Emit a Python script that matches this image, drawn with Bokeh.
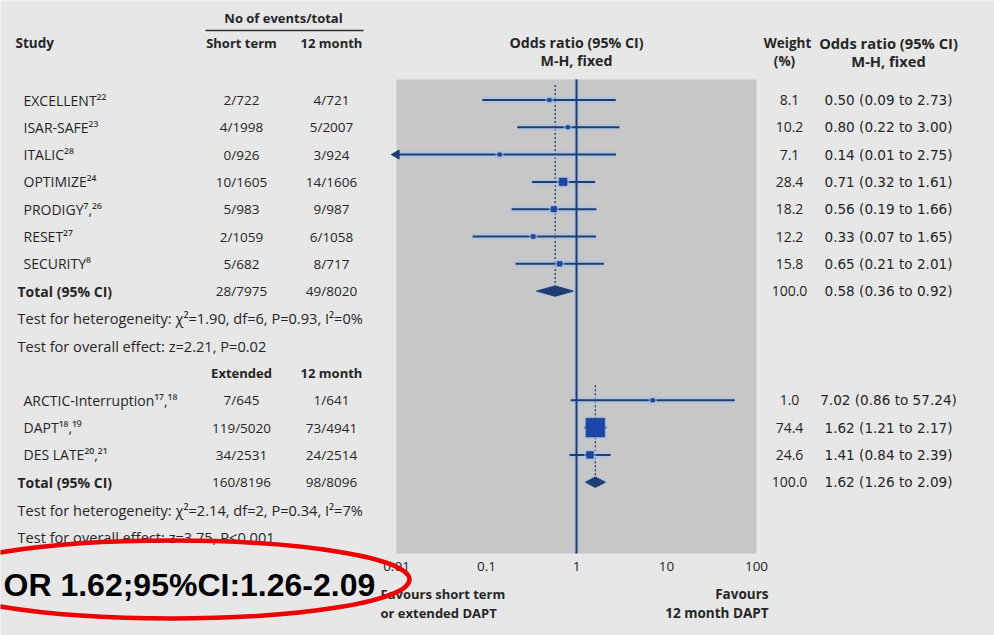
import math
from bokeh.plotting import figure
from bokeh.models import Range1d, LogScale
from bokeh.core.properties import value
from bokeh.embed import file_html
from bokeh.resources import INLINE

# ---------------- data ----------------
g1_studies = ["EXCELLENT²²", "ISAR-SAFE²³", "ITALIC²⁸", "OPTIMIZE²⁴", "PRODIGY⁷,²⁶", "RESET²⁷", "SECURITY⁸"]
g1_short = ["2/722", "4/1998", "0/926", "10/1605", "5/983", "2/1059", "5/682"]
g1_long = ["4/721", "5/2007", "3/924", "14/1606", "9/987", "6/1058", "8/717"]
g1_weight = [8.1, 10.2, 7.1, 28.4, 18.2, 12.2, 15.8]
g1_or = [0.50, 0.80, 0.14, 0.71, 0.56, 0.33, 0.65]
g1_lo = [0.09, 0.22, 0.01, 0.32, 0.19, 0.07, 0.21]
g1_hi = [2.73, 3.00, 2.75, 1.61, 1.66, 1.65, 2.01]
g1_tot_short = "28/7975"
g1_tot_long = "49/8020"
g1_tot_weight = 100.0
g1_tot_or = 0.58
g1_tot_lo = 0.36
g1_tot_hi = 0.92
g1_het = "Test for heterogeneity: χ²=1.90, df=6, P=0.93, I²=0%"
g1_eff = "Test for overall effect: z=2.21, P=0.02"

g2_studies = ["ARCTIC-Interruption¹⁷,¹⁸", "DAPT¹⁸,¹⁹", "DES LATE²⁰,²¹"]
g2_short = ["7/645", "119/5020", "34/2531"]
g2_long = ["1/641", "73/4941", "24/2514"]
g2_weight = [1.0, 74.4, 24.6]
g2_or = [7.02, 1.62, 1.41]
g2_lo = [0.86, 1.21, 0.84]
g2_hi = [57.24, 2.17, 2.39]
g2_tot_short = "160/8196"
g2_tot_long = "98/8096"
g2_tot_weight = 100.0
g2_tot_or = 1.62
g2_tot_lo = 1.26
g2_tot_hi = 2.09
g2_het = "Test for heterogeneity: χ²=2.14, df=2, P=0.34, I²=7%"
g2_eff = "Test for overall effect: z=3.75, P<0.001"

tick_values = [0.01, 0.1, 1, 10, 100]
tick_labels = ["0.01", "0.1", "1", "10", "100"]

highlight = "OR 1.62;95%CI:1.26-2.09"

# ---------------- style / layout ----------------
W, H = 994, 635
BG = "#e7e7e7"
PANEL = "#c7c7c7"
TXT = "#262626"
NAVY = "#1f3d70"
BLUE = "#1b45a8"
HALO = "#a9c3e4"
FONT = value("Open Sans")
WIDE = value("DejaVu Sans")

ROW0, ROWH = 99.5, 27.3


def r(ypix):
    return (ypix - ROW0) / ROWH


ONE_X = 576.0
DEC = 90.0
or_start = 10 ** (-ONE_X / DEC)
or_end = 10 ** ((W - ONE_X) / DEC)

p = figure(width=W, height=H, x_range=Range1d(0, W), y_range=Range1d(r(H), r(0)),
           x_axis_type=None, y_axis_type=None, toolbar_location=None,
           output_backend="svg", min_border=0, background_fill_color=BG,
           border_fill_color=BG, outline_line_color=None)
p.extra_x_ranges = {"or": Range1d(or_start, or_end)}
p.extra_x_scales = {"or": LogScale()}


def txt(x, y, t, align="left", bold=False, size="13px", color=TXT, font=FONT, rng=None,
        baseline="middle"):
    kw = {}
    if rng:
        kw["x_range_name"] = rng
    p.text(x=x, y=y, text=t, text_font=font, text_font_size=size,
           text_font_style="bold" if bold else "normal", text_align=align,
           text_baseline=baseline, text_color=color, **kw)


# panel
p.quad(left=[tick_values[0]], right=[tick_values[-1]], top=[r(79)], bottom=[r(553)],
       fill_color=PANEL, line_color=None, x_range_name="or")

# headers
txt([283], [r(17)], ["No of events/total"], align="center", bold=True)
p.segment(x0=[205], y0=[r(30)], x1=[363], y1=[r(30)], line_color="#333333", line_width=1.5)
txt([15], [r(42)], ["Study"], bold=True, size="13.5px")
txt([241, 331], [r(42)] * 2, ["Short term", "12 month"], align="center", bold=True)
txt([576, 576], [r(42), r(60)], ["Odds ratio (95% CI)", "M-H, fixed"], align="center",
    bold=True, size="14.2px")
txt([787, 784], [r(42), r(60)], ["Weight", "(%)"], align="center", bold=True, size="13.5px")
txt([888, 888], [r(42), r(60)], ["Odds ratio (95% CI)", "M-H, fixed"], align="center",
    bold=True, size="14.7px")


def fmt(o, lo, hi):
    return f"{o:.2f} ({lo:.2f} to {hi:.2f})"


def group(start, names, short, long_, weight, ors, los, his,
          t_short, t_long, t_w, t_or, t_lo, t_hi, het, eff):
    n = len(names)
    rows = [start + i for i in range(n)]
    trow = start + n
    # texts
    txt([23] * n, rows, names, size="14px")
    txt([241] * n, rows, short, align="center", size="13.5px")
    txt([331] * n, rows, long_, align="center", size="13.5px")
    txt([789] * n, rows, [f"{w:.1f}" for w in weight], align="center", size="14px")
    txt([888] * n, rows, [fmt(a, b, c) for a, b, c in zip(ors, los, his)], align="center",
        size="13.6px", font=WIDE)
    txt([17], [trow], ["Total (95% CI)"], bold=True, size="14px")
    txt([241], [trow], [t_short], align="center", size="13.5px")
    txt([331], [trow], [t_long], align="center", size="13.5px")
    txt([789], [trow], [f"{t_w:.1f}"], align="center", size="14px")
    txt([888], [trow], [fmt(t_or, t_lo, t_hi)], align="center", size="13.6px", font=WIDE)
    txt([17, 17], [trow + 1, trow + 2], [het, eff], size="14.6px")
    # pooled dashed line
    p.segment(x0=[t_or], y0=[start - 0.55], x1=[t_or], y1=[trow], line_color=NAVY,
              line_width=1.3, line_dash="2 2", x_range_name="or")
    # CI halos and lines
    lo_clip = [max(v, tick_values[0]) for v in los]
    p.segment(x0=lo_clip, y0=rows, x1=his, y1=rows, line_color=HALO, line_width=7,
              line_alpha=0.6, x_range_name="or")
    p.segment(x0=lo_clip, y0=rows, x1=his, y1=rows, line_color=NAVY, line_width=2,
              x_range_name="or")
    # arrows for truncated CIs
    ax = [tick_values[0] for v in los if v <= tick_values[0]]
    ay = [rw for v, rw in zip(los, rows) if v <= tick_values[0]]
    if ax:
        p.scatter(x=ax, y=ay, marker="triangle", size=9, angle=math.pi / 2,
                  fill_color=NAVY, line_color=NAVY, x_range_name="or")
    # squares
    sizes = [max(3.5, 1.0 + 0.24 * w) for w in weight]
    p.scatter(x=ors, y=rows, size=[s + 5 for s in sizes], marker="square",
              fill_color=HALO, line_color=None, fill_alpha=0.5, x_range_name="or")
    p.scatter(x=ors, y=rows, size=sizes, marker="square", fill_color=BLUE,
              line_color=NAVY, line_width=0.5, x_range_name="or")
    # diamond
    h = 0.19
    p.patches(xs=[[t_lo, t_or, t_hi, t_or]], ys=[[trow, trow - h, trow, trow + h]],
              fill_color=HALO, line_color=HALO, line_width=4, fill_alpha=0.6,
              line_alpha=0.5, x_range_name="or")
    p.patches(xs=[[t_lo, t_or, t_hi, t_or]], ys=[[trow, trow - h, trow, trow + h]],
              fill_color=NAVY, line_color=NAVY, x_range_name="or")


# vertical no-effect line (x = 1)
p.segment(x0=[tick_values[2]], y0=[r(79)], x1=[tick_values[2]], y1=[r(553)],
          line_color=HALO, line_width=5, line_alpha=0.6, x_range_name="or")

group(0, g1_studies, g1_short, g1_long, g1_weight, g1_or, g1_lo, g1_hi,
      g1_tot_short, g1_tot_long, g1_tot_weight, g1_tot_or, g1_tot_lo, g1_tot_hi, g1_het, g1_eff)

txt([241, 331], [10, 10], ["Extended", "12 month"], align="center", bold=True)

group(11, g2_studies, g2_short, g2_long, g2_weight, g2_or, g2_lo, g2_hi,
      g2_tot_short, g2_tot_long, g2_tot_weight, g2_tot_or, g2_tot_lo, g2_tot_hi, g2_het, g2_eff)

p.segment(x0=[tick_values[2]], y0=[r(79)], x1=[tick_values[2]], y1=[r(553)],
          line_color=NAVY, line_width=2, x_range_name="or")

# axis tick labels
txt(tick_values, [r(566)] * len(tick_values), tick_labels, align="center", rng="or",
    size="13.5px")

# favours labels
txt([380, 380], [r(593), r(612)], ["Favours short term", "or extended DAPT"], bold=True)
txt([768, 768], [r(593), r(612)], ["Favours", "12 month DAPT"], align="right", bold=True,
    size="13.5px")

# highlighted result
txt([3], [r(584)], [highlight], bold=True, size="32px", color="#000000",
    font=value("Liberation Sans"))
p.ellipse(x=[171], y=[r(579)], width=476, height=78 / ROWH, fill_color=None,
          line_color="#ee0000", line_width=4.5)

open("out.html", "w").write(file_html(p, INLINE))
